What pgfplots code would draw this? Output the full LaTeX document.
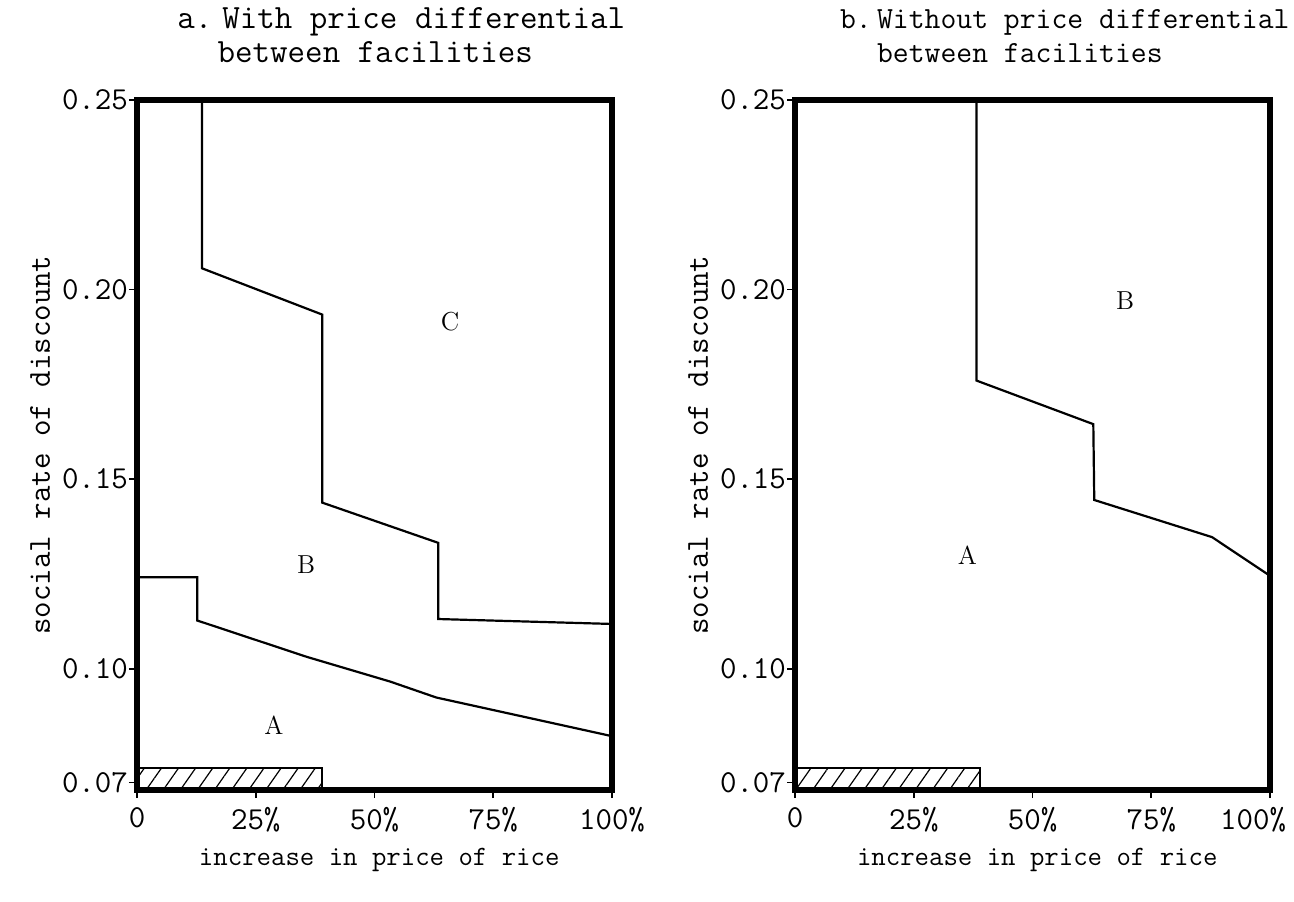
\documentclass[border=0pt]{standalone}
\usepackage{fontspec}
\usepackage{pgfplots}
\pgfplotsset{compat=1.18}
\usetikzlibrary{patterns.meta}

\newcommand{\tickfont}{\fontsize{16}{19}\selectfont\ttfamily}
\newcommand{\xlabfont}{\fontsize{14}{17}\selectfont\ttfamily}
\newcommand{\ylabfont}{\fontsize{16}{19}\selectfont\ttfamily}
\newcommand{\titafont}{\fontsize{17}{20}\selectfont\ttfamily}
\newcommand{\titbfont}{\fontsize{15.4}{18}\selectfont\ttfamily}
\newcommand{\rfont}{\fontsize{13}{15}\selectfont\rmfamily}

\pgfplotsset{panel/.style={
  scale only axis, width=237.5pt, height=345pt,
  xmin=0, xmax=100, ymin=0.068, ymax=0.25,
  xtick={0,25,50,75,100},
  ytick={0.07,0.10,0.15,0.20,0.25}, yticklabels={0.07,0.10,0.15,0.20,0.25},
  tick align=outside, xtick pos=left, ytick pos=left,
  major tick length=4pt,
  tick style={line width=0.9pt, black},
  axis line style={line width=2.6pt},
  ticklabel style={font=\tickfont},
  xticklabel style={yshift=-1pt},
  yticklabel style={xshift=3pt},
  clip=false, axis on top,
  xlabel={increase in price of rice},
  ylabel={social rate of discount},
  every axis x label/.style={at={(axis description cs:0.51,-0.101)}, anchor=center, font=\xlabfont},
  every axis y label/.style={at={(axis description cs:-0.204,0.5)}, anchor=center, rotate=90, font=\ylabfont},
}}

\begin{document}
\begin{tikzpicture}
\path[use as bounding box] (-68.5pt,-55.5pt) rectangle (578.5pt,395pt);

% Panel a
\begin{axis}[panel, at={(0pt,0pt)}, anchor=south west,
  xticklabels={0,25\%,50\%,75\%,100\%}]
\addplot[draw=black, line width=0.8pt, pattern={Lines[angle=55,distance=7pt,line width=0.6pt]}]
  coordinates {(0,0.068) (39,0.068) (39,0.0738) (0,0.0738)} -- cycle;
% boundary A/B
\addplot[black, line width=1.1pt, mark=none] coordinates {
  (0,0.1241) (12.7,0.1241) (12.7,0.1127) (35.8,0.1031) (53.3,0.0966) (63.0,0.0924) (100,0.0822)};
% boundary B/C
\addplot[black, line width=1.1pt, mark=none] coordinates {
  (13.7,0.25) (13.7,0.2056) (39.0,0.1934) (39.0,0.1438) (63.4,0.1332) (63.4,0.1131) (100,0.1118)};
\node[font=\rfont] at (axis cs:28.8,0.0852) {A};
\node[font=\rfont] at (axis cs:35.6,0.1275) {B};
\node[font=\rfont] at (axis cs:65.9,0.1915) {C};
\node[font=\titafont, anchor=base west] at (axis description cs:0.07,1.104) {a.};
\node[font=\titafont, anchor=base west] at (axis description cs:0.165,1.104) {With price differential};
\node[font=\titafont, anchor=base west] at (axis description cs:0.155,1.055) {between facilities};
\end{axis}

% Panel b
\begin{axis}[panel, at={(329pt,0pt)}, anchor=south west,
  xticklabels={0,25\%,50\%,75\%,\hspace{16pt}\makebox[0pt][r]{100\%}}]
\addplot[draw=black, line width=0.8pt, pattern={Lines[angle=55,distance=7pt,line width=0.6pt]}]
  coordinates {(0,0.068) (39,0.068) (39,0.0738) (0,0.0738)} -- cycle;
% boundary A/B
\addplot[black, line width=1.1pt, mark=none] coordinates {
  (38.2,0.25) (38.2,0.1760) (62.8,0.1645) (63.0,0.1445) (87.8,0.1347) (100,0.1245)};
\node[font=\rfont] at (axis cs:36.3,0.1298) {A};
\node[font=\rfont] at (axis cs:69.5,0.197) {B};
\node[font=\titbfont, anchor=base west] at (axis description cs:0.08,1.104) {b.};
\node[font=\titbfont, anchor=base west] at (axis description cs:0.158,1.104) {Without price differential};
\node[font=\titbfont, anchor=base west] at (axis description cs:0.158,1.055) {between facilities};
\end{axis}
\end{tikzpicture}
\end{document}
